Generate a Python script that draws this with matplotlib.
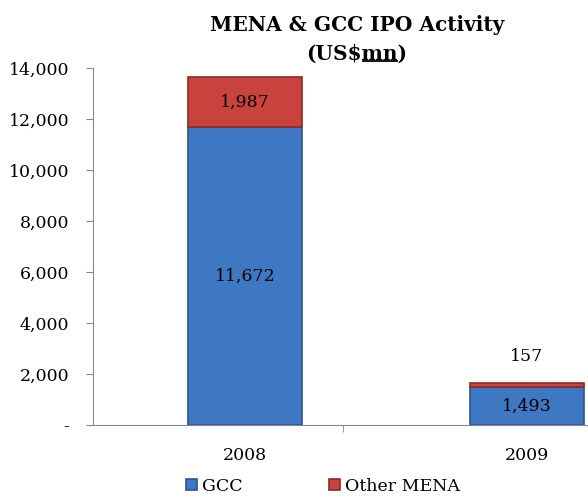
import numpy as np
import matplotlib
matplotlib.use("Agg")
import matplotlib.pyplot as plt
from matplotlib.ticker import FuncFormatter
from matplotlib.lines import Line2D

# data
years = ["2008", "2009"]
gcc = [11672, 1493]
other_mena = [1987, 157]
yticks = [0, 2000, 4000, 6000, 8000, 10000, 12000, 14000]

plt.rcParams["font.family"] = ["DejaVu Serif"]

fig = plt.figure(figsize=(5.88, 4.99), dpi=100)
ax = fig.add_axes([93 / 588, 74 / 499, 1 - 93 / 588, 357 / 499])

x = np.arange(len(years))
width = 0.404
blue, blue_edge = "#3e77c2", "#2b5590"
red, red_edge = "#c9423e", "#8e2a27"

ax.bar(x, gcc, width, color=blue, edgecolor=blue_edge, linewidth=1.2,
       label="GCC")
ax.bar(x, other_mena, width, bottom=gcc, color=red, edgecolor=red_edge,
       linewidth=1.2, label="Other MENA")

# data labels
for i in range(len(years)):
    ax.text(x[i], gcc[i] / 2, f"{gcc[i]:,}", ha="center", va="center",
            fontsize=12.5)
    if other_mena[i] > 1000:
        ax.text(x[i], gcc[i] + other_mena[i] / 2, f"{other_mena[i]:,}",
                ha="center", va="center", fontsize=12.5)
    else:
        ax.annotate(f"{other_mena[i]:,}", (x[i], gcc[i] + other_mena[i]),
                    xytext=(0, 13), textcoords="offset points",
                    ha="center", va="bottom", fontsize=12.5)

ax.set_ylim(0, 14000)
ax.set_xlim((93 - 245) / 282, (588 - 245) / 282)
ax.set_yticks(yticks)
ax.yaxis.set_major_formatter(
    FuncFormatter(lambda v, p: "-" if v == 0 else f"{int(v):,}"))

# category labels, boundary tick marks
ax.set_xticks(x)
ax.set_xticklabels(years)
ax.tick_params(axis="x", which="major", length=0, pad=16, labelsize=12.5)
ax.set_xticks([(343 - 245) / 282], minor=True)
ax.tick_params(axis="x", which="minor", length=5, color="#888888")
ax.tick_params(axis="y", length=5, color="#888888", labelsize=12.5, pad=12)

for s in ["top", "right"]:
    ax.spines[s].set_visible(False)
for s in ["left", "bottom"]:
    ax.spines[s].set_color("#888888")

# title, "mn" underlined as in the original
tkw = dict(fontsize=14.5, fontweight="bold")
cx = 357 / 588
fig.text(cx, 1 - 25 / 499, "MENA & GCC IPO Activity", ha="center",
         va="center", **tkw)
t2 = fig.text(cx, 1 - 54 / 499, "(US$mn)", ha="center", va="center", **tkw)
r = fig.canvas.get_renderer()
full = t2.get_window_extent(r)
tmp = fig.text(0, 0, "(US$", **tkw)
w_pre = tmp.get_window_extent(r).width
tmp.set_text("(US$mn")
w_mn = tmp.get_window_extent(r).width
tmp.remove()
x0 = (full.x0 + w_pre + 1) / fig.bbox.width
x1 = (full.x0 + w_mn - 1) / fig.bbox.width
yu = (full.y0 + 3) / fig.bbox.height
fig.add_artist(Line2D([x0, x1], [yu, yu], color="black", lw=1.3,
                      transform=fig.transFigure))

ax.legend(loc="center", bbox_to_anchor=(0.465, -0.172),
          ncol=2, frameon=False, fontsize=12.5, handlelength=0.6,
          handleheight=0.6, columnspacing=5, handletextpad=0.3)

fig.savefig("out.png", dpi=100)
